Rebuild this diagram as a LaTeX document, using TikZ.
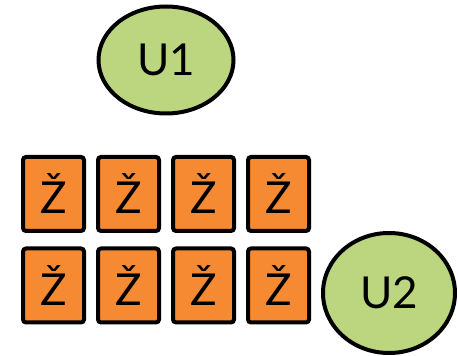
\documentclass[tikz,border=0pt]{standalone}
\usepackage{fontspec}
\setmainfont{Lato}
\usepackage{tikz}
\usetikzlibrary{shapes.geometric}

\definecolor{leafgreen}{HTML}{BBD67E}
\definecolor{tileorange}{HTML}{F68A33}

\tikzset{
    unitnode/.style={ellipse, draw=black, fill=leafgreen, line width=4pt,
        inner sep=0pt, font=\fontsize{44}{50}\selectfont},
    tilenode/.style={rectangle, rounded corners=3pt, draw=black, fill=tileorange,
        line width=4pt, minimum width=61pt, minimum height=74pt, inner sep=0pt,
        font=\fontsize{44}{50}\selectfont}
}

\begin{document}
\begin{tikzpicture}[x=1pt, y=1pt]
    \useasboundingbox (0,0) rectangle (458,356);

    \node[unitnode, minimum width=135pt, minimum height=107pt] (u1) at (166,296) {U1};
    \node[unitnode, minimum width=132pt, minimum height=120pt] (u2) at (389,63) {U2};

    \foreach \col in {1,...,4} {
        \node[tilenode] (top\col) at (-21.5+75*\col,162) {Ž};
        \node[tilenode] (bot\col) at (-21.5+75*\col,70.5) {Ž};
    }
\end{tikzpicture}
\end{document}
